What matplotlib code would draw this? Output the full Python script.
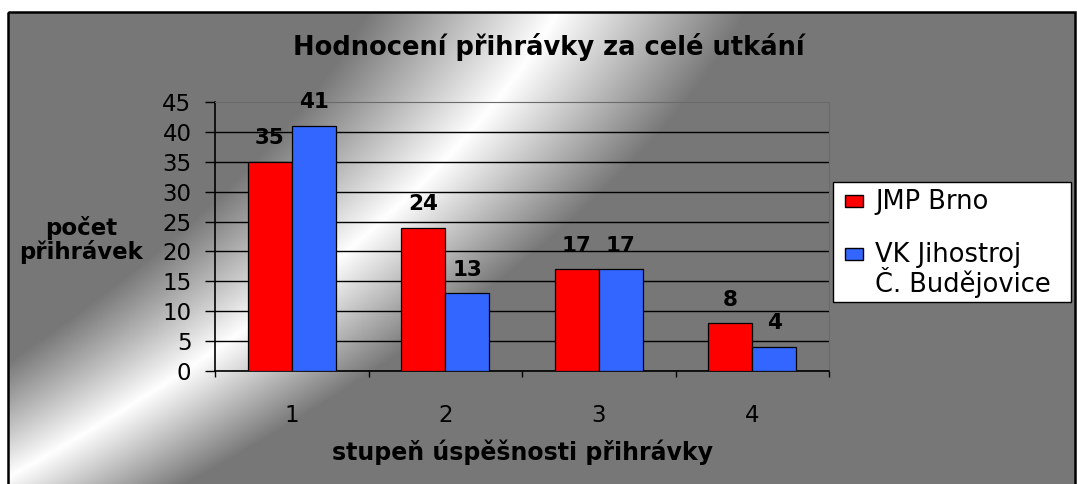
import numpy as np
import matplotlib
matplotlib.use("Agg")
import matplotlib.pyplot as plt
from matplotlib.patches import Rectangle

# data
categories = [1, 2, 3, 4]
series_names = ["JMP Brno", "VK Jihostroj\nČ. Budějovice"]
jmp_brno = [35, 24, 17, 8]
vk_jihostroj = [41, 13, 17, 4]
series_colors = ["#FF0000", "#3366FF"]
yticks = [0, 5, 10, 15, 20, 25, 30, 35, 40, 45]

W, H = 1077, 484
fig = plt.figure(figsize=(W / 100, H / 100), dpi=100)

# background (chart area) in pixel coords
bg = fig.add_axes([0, 0, 1, 1], zorder=0)
bg.set_xlim(0, W)
bg.set_ylim(H, 0)
bg.axis("off")

# diagonal grey-white-grey gradient, white band runs bottom-left -> top-right
left, top, right = 7.5, 12, 1075
xx, yy = np.meshgrid(np.arange(left, right), np.arange(top, H + 1))
peak = 562.7 - 0.5348 * yy - 0.001322 * yy ** 2
t = np.clip(1 - np.abs(xx - peak) / 190.0, 0, 1)
gray = 119 / 255.0
val = gray + (1 - gray) * t
img = np.dstack([val, val, val])
bg.imshow(img, extent=(left, right, H + 1, top), aspect="auto", interpolation="bilinear", zorder=0)
bg.add_patch(Rectangle((left, top), right - left, H + 20 - top, fill=False,
                       edgecolor="black", lw=1.8, zorder=2, clip_on=False))

bg.text(549, 55, "Hodnocení přihrávky za celé utkání", ha="center", va="baseline",
        fontsize=18.5, fontweight="bold", color="black", zorder=3)

# legend box drawn by hand to match the original layout
bg.add_patch(Rectangle((833, 182), 238, 120, facecolor="white", edgecolor="black", lw=1, zorder=3))
bg.add_patch(Rectangle((845, 195), 18, 12, facecolor=series_colors[0], edgecolor="black", lw=1, zorder=4))
bg.add_patch(Rectangle((845, 248), 18, 12, facecolor=series_colors[1], edgecolor="black", lw=1, zorder=4))
bg.text(875, 202, series_names[0], ha="left", va="center", fontsize=18.5, zorder=4)
bg.text(875, 270, series_names[1], ha="left", va="center", fontsize=18.5, linespacing=0.93, zorder=4)

# plot area
ax = fig.add_axes([215 / W, 1 - 371 / H, 614 / W, 269 / H], zorder=1)
ax.set_facecolor("none")

x = np.array(categories)
bw = 1 / 3.5
b1 = ax.bar(x - bw / 2, jmp_brno, bw, color=series_colors[0], edgecolor="black", lw=0.9, zorder=3)
b2 = ax.bar(x + bw / 2, vk_jihostroj, bw, color=series_colors[1], edgecolor="black", lw=0.9, zorder=3)

for bars, vals in [(b1, jmp_brno), (b2, vk_jihostroj)]:
    for b, v in zip(bars, vals):
        ax.annotate(str(v), (b.get_x() + b.get_width() / 2, v), xytext=(0, 17),
                    textcoords="offset points", ha="center", va="center",
                    fontsize=15.5, fontweight="bold", zorder=4)

ax.set_xlim(0.5, 4.5)
ax.set_ylim(0, 45)
ax.set_yticks(yticks)
ax.tick_params(axis="y", direction="out", length=7, width=1, pad=10, labelsize=16.5)
ax.set_xticks(np.arange(0.5, 5, 1))
ax.set_xticklabels([])
ax.set_xticks(categories, minor=True)
ax.set_xticklabels([str(c) for c in categories], minor=True)
ax.tick_params(axis="x", which="major", direction="out", length=4.5, width=1)
ax.tick_params(axis="x", which="minor", length=0, pad=24, labelsize=16.5)

ax.yaxis.grid(True, color="black", lw=1)
ax.get_ygridlines()[-1].set_visible(False)
ax.set_axisbelow(True)

for s in ["left", "bottom"]:
    ax.spines[s].set_color("black")
    ax.spines[s].set_linewidth(1.2)
for s in ["top", "right"]:
    ax.spines[s].set_color("#6a6a6a")
    ax.spines[s].set_linewidth(0.8)

ax.set_xlabel("stupeň úspěšnosti přihrávky", fontsize=17, fontweight="bold", va="center")
ax.xaxis.set_label_coords(0.5, (371 - 452) / 269)
ax.set_ylabel("počet\npřihrávek", fontsize=16.5, fontweight="bold", rotation=0,
              ha="center", va="center", linespacing=1.0)
ax.yaxis.set_label_coords((81 - 215) / 614, (371 - 240) / 269)

fig.savefig("out.png", dpi=100)
